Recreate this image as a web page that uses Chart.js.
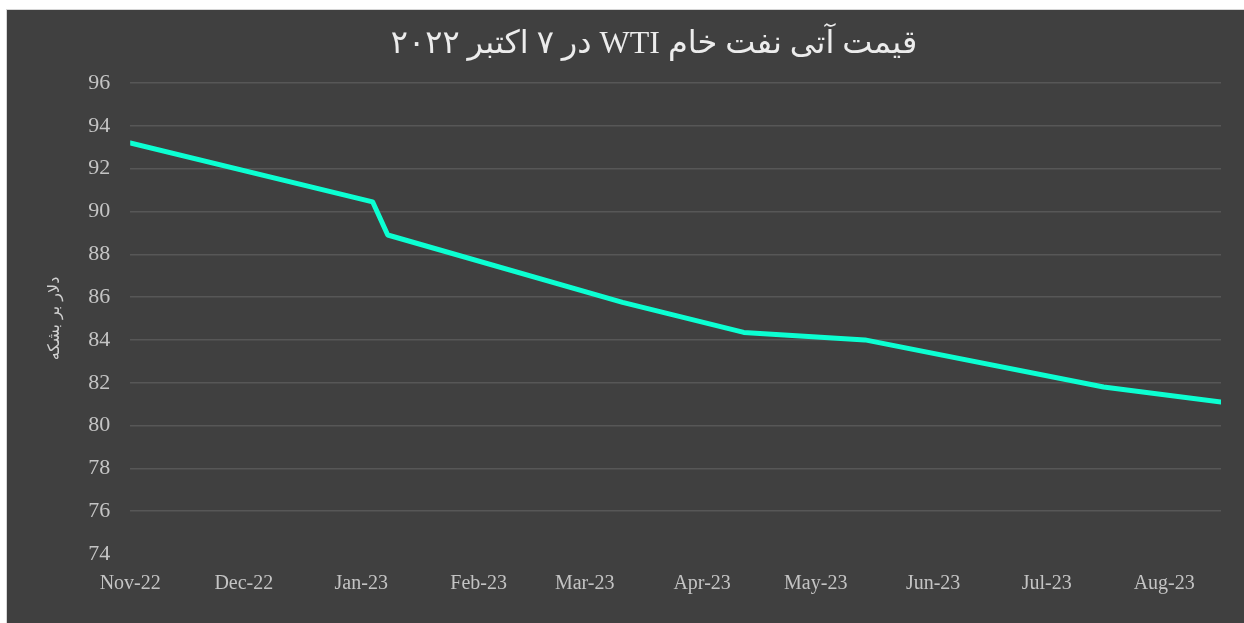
<!DOCTYPE html>
<html>
<head>
<meta charset="utf-8">
<script src="https://cdn.jsdelivr.net/npm/chart.js@4"></script>
<style>
    html, body { margin: 0; padding: 0; background: #ffffff; overflow: hidden; }
    .frame {
        position: absolute; left: 6px; top: 9px;
        width: 1300px; height: 700px;
        background: #404040;
        border-left: 1px solid #d6d6d6;
        border-top: 1px solid #d6d6d6;
    }
    .chart-box { position: absolute; left: 0; top: 0; width: 1237px; height: 613px; }
</style>
</head>
<body>
<div class="frame">
    <div class="chart-box"><canvas id="wtiChart"></canvas></div>
</div>
<script>
// Data: WTI futures curve on 7 Oct 2022
const contractDates = ['2022-11-01', '2023-01-04', '2023-01-08', '2023-03-11', '2023-04-12', '2023-05-14', '2023-07-16', '2023-08-16'];
const prices = [93.2, 90.45, 88.9, 85.75, 84.35, 84.0, 81.8, 81.1];

const tickDates = ['2022-11-01', '2022-12-01', '2023-01-01', '2023-02-01', '2023-03-01', '2023-04-01', '2023-05-01', '2023-06-01', '2023-07-01', '2023-08-01'];
const tickLabels = ['Nov-22', 'Dec-22', 'Jan-23', 'Feb-23', 'Mar-23', 'Apr-23', 'May-23', 'Jun-23', 'Jul-23', 'Aug-23'];

const chartTitle = 'قیمت آتی نفت خام WTI در ۷ اکتبر ۲۰۲۲';
const yAxisTitle = 'دلار بر بشکه';

// days since the first contract date
const toDay = s => Math.round((Date.parse(s) - Date.parse(contractDates[0])) / 86400000);

const points = contractDates.map((d, i) => ({ x: toDay(d), y: prices[i] }));
const tickDays = tickDates.map(toDay);

// Chart.js' title has no rtl switch, so the Persian title is drawn here
const rtlTitle = {
    id: 'rtlTitle',
    afterDraw: function(chart) {
        const ctx = chart.ctx;
        ctx.save();
        ctx.direction = 'rtl';
        ctx.font = '32px "Liberation Serif", "DejaVu Sans"';
        ctx.fillStyle = '#ececec';
        ctx.textAlign = 'center';
        ctx.textBaseline = 'middle';
        ctx.fillText(chartTitle, 647, 35);
        ctx.restore();
    }
};

new Chart(document.getElementById('wtiChart'), {
    type: 'line',
    data: {
        datasets: [{
            data: points,
            borderColor: '#0cffd2',
            borderWidth: 5,
            borderCapStyle: 'round',
            borderJoinStyle: 'round',
            pointRadius: 0,
            tension: 0
        }]
    },
    options: {
        responsive: true,
        maintainAspectRatio: false,
        animation: false,
        layout: { padding: { top: 73, left: 15, right: 23, bottom: 17 } },
        plugins: {
            legend: { display: false },
            tooltip: { enabled: false },
            title: { display: false }
        },
        scales: {
            x: {
                type: 'linear',
                min: 0,
                max: toDay(contractDates[contractDates.length - 1]),
                grid: { display: false },
                border: { display: false },
                afterBuildTicks: function(scale) {
                    scale.ticks = tickDays.map(v => ({ value: v }));
                },
                ticks: {
                    autoSkip: false,
                    maxRotation: 0,
                    padding: 10,
                    color: '#c4c4c4',
                    font: { family: '"Liberation Serif"', size: 20 },
                    callback: function(value) {
                        const i = tickDays.indexOf(value);
                        return i >= 0 ? tickLabels[i] : '';
                    }
                }
            },
            y: {
                min: 74,
                max: 96,
                border: { display: false },
                grid: {
                    drawTicks: false,
                    lineWidth: 1.5,
                    color: ctx => ctx.tick && ctx.tick.value === 74 ? 'rgba(0,0,0,0)' : '#575757'
                },
                ticks: {
                    stepSize: 2,
                    padding: 20,
                    color: '#c4c4c4',
                    font: { family: '"Liberation Serif"', size: 22 }
                },
                title: {
                    display: true,
                    text: yAxisTitle,
                    color: '#d0d0d0',
                    font: { family: '"DejaVu Sans"', size: 16 },
                    padding: { top: 23, bottom: 4 }
                }
            }
        }
    },
    plugins: [rtlTitle]
});
</script>
</body>
</html>
